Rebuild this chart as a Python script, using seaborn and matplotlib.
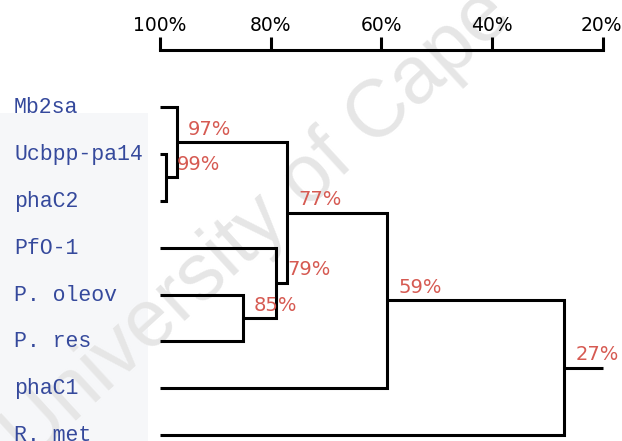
import matplotlib
matplotlib.use("Agg")
import matplotlib.pyplot as plt
import matplotlib.transforms as mtransforms
from matplotlib.patches import Rectangle
import numpy as np
import pandas as pd
import seaborn as sns

# ---- data -------------------------------------------------------------
leaves = ["Mb2sa", "Ucbpp-pa14", "phaC2", "PfO-1", "P. oleov", "P. res", "phaC1", "R. met"]
# Agglomeration steps: children < len(leaves) are leaves, higher ids are earlier steps
merge_left = [1, 0, 4, 3, 9, 12, 13]
merge_right = [2, 8, 5, 10, 11, 6, 7]
merge_similarity = [99, 97, 85, 79, 77, 59, 27]
root_tail = 20
scale_ticks = [100, 80, 60, 40, 20]
scale_labels = ["100%", "80%", "60%", "40%", "20%"]
watermark = "University of Cape Town"

# ---- layout (pixels of a 622x441 canvas) ------------------------------
W, H, DPI = 622, 441, 100
PX_PER_PCT = 5.5375
X100 = 160          # pixel column of 100 %
LEAF0_Y, LEAF_DY = 107, 46.9
SCALE_Y = 50

sns.set_theme(style="white")
plt.rcParams["font.family"] = ["DejaVu Sans"]

fig = plt.figure(figsize=(W / DPI, H / DPI), dpi=DPI)
fig.patch.set_facecolor("white")
ax = fig.add_axes([0, 0, 1, (H - SCALE_Y) / H])
ax.patch.set_alpha(0)

# data limits chosen so that the pixel layout above holds
ax.set_xlim(100 + X100 / PX_PER_PCT, 100 - (W - X100) / PX_PER_PCT)
ax.set_ylim((H - LEAF0_Y) / LEAF_DY, -(LEAF0_Y - SCALE_Y) / LEAF_DY)

# ---- dendrogram geometry ---------------------------------------------
n = len(leaves)
pos_x = {i: 100.0 for i in range(n)}
pos_y = {i: float(i) for i in range(n)}
rows = []
for k, (a, b, s) in enumerate(zip(merge_left, merge_right, merge_similarity)):
    node = n + k
    pos_x[node] = s
    pos_y[node] = (pos_y[a] + pos_y[b]) / 2
    for xx, yy in [(pos_x[a], pos_y[a]), (s, pos_y[a]), (s, pos_y[b]), (pos_x[b], pos_y[b])]:
        rows.append({"x": xx, "y": yy, "branch": k})
root = n + len(merge_similarity) - 1
for xx in (pos_x[root], root_tail):
    rows.append({"x": xx, "y": pos_y[root], "branch": len(merge_similarity)})
tree = pd.DataFrame(rows)

sns.lineplot(data=tree, x="x", y="y", units="branch", estimator=None, sort=False,
             color="black", linewidth=2.2, legend=False, ax=ax,
             solid_joinstyle="miter", solid_capstyle="butt", zorder=3)

# ---- similarity labels -----------------------------------------------
for k, s in enumerate(merge_similarity):
    node = n + k
    ax.annotate(f"{s}%", xy=(pos_x[node], pos_y[node]), xytext=(11, 7.5),
                textcoords="offset pixels", ha="left", va="baseline",
                fontsize=14, color="#d65a52", zorder=4)

# ---- leaf names ---------------------------------------------------------
blend = mtransforms.blended_transform_factory(fig.transFigure, ax.transData)
for i, name in enumerate(leaves):
    ax.annotate(name, xy=(14 / W, i), xycoords=blend, xytext=(0, -6),
                textcoords="offset pixels", ha="left", va="baseline",
                fontsize=15.5, family="Liberation Mono", color="#35499c",
                annotation_clip=False, zorder=4)

# ---- similarity scale along the top -------------------------------------
ax.set_ylabel("")
ax.set_xlabel("")
ax.set_yticks([])
ax.xaxis.tick_top()
ax.set_xticks(scale_ticks)
ax.set_xticklabels(scale_labels)
ax.tick_params(axis="x", which="both", direction="out", length=9.5, width=2.2,
               pad=1, labelsize=13.5, colors="black", top=True, bottom=False)
for side in ("left", "right", "bottom"):
    ax.spines[side].set_visible(False)
ax.spines["top"].set_bounds(20, 100)
ax.spines["top"].set_linewidth(2.2)
ax.spines["top"].set_color("black")
# keep the last scale label inside the canvas
last = ax.get_xticklabels()[-1]
last.set_transform(last.get_transform() + mtransforms.ScaledTranslation(-2 / DPI, 0, fig.dpi_scale_trans))

# ---- label panel tint and watermark -------------------------------------
fig.patches.append(Rectangle((0, 0), 148 / W, (H - 113) / H, transform=fig.transFigure,
                             facecolor="#f6f7f9", edgecolor="none", zorder=-2))
fig.text(30 / W, 1 - 463 / H, watermark, rotation=42.5, rotation_mode="anchor",
         ha="left", va="baseline", fontsize=58, family="Liberation Sans",
         color="#e6e6e6", zorder=-1)

fig.savefig("out.png", dpi=DPI)
